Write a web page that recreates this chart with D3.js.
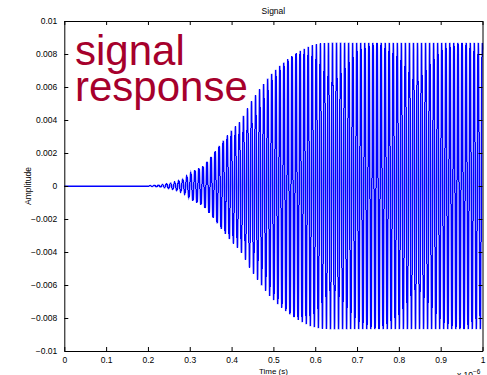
<!DOCTYPE html>
<html lang="en"><head><meta charset="utf-8">
<script type="text/javascript" src="https://cdn.jsdelivr.net/npm/d3@7"></script>
<style>
  body { margin: 0; background: #fff; }
  text { font-family: "Liberation Sans", Arial, sans-serif; }
</style>
</head>
<body>
<script type="text/javascript">
// signal response plot, time axis in units of 1e-6 s

var width = 487;
var height = 375;
var margin = {top: 21, right: 4.5, bottom: 24, left: 64.3};

var xTicks = [0, 0.1, 0.2, 0.3, 0.4, 0.5, 0.6, 0.7, 0.8, 0.9, 1];
var yTicks = [-0.01, -0.008, -0.006, -0.004, -0.002, 0, 0.002, 0.004, 0.006, 0.008, 0.01];
var xTickLabels = ["0", "0.1", "0.2", "0.3", "0.4", "0.5", "0.6", "0.7", "0.8", "0.9", "1"];
var yTickLabels = ["\u22120.01", "\u22120.008", "\u22120.006", "\u22120.004", "\u22120.002", "0",
                   "0.002", "0.004", "0.006", "0.008", "0.01"];

// envelope of the oscillation
var envTime = [0, 0.2, 0.23, 0.26, 0.284, 0.308, 0.332, 0.352, 0.372, 0.397, 0.42, 0.436,
               0.444, 0.468, 0.492, 0.516, 0.54, 0.563, 0.587, 0.611, 0.635, 0.7, 1];
var envAmp  = [0, 0, 0.00006, 0.0002, 0.0004, 0.0009, 0.0012, 0.0018, 0.0025, 0.0033, 0.0039, 0.0046,
               0.0050, 0.0059, 0.0067, 0.0073, 0.0078, 0.0082, 0.0085, 0.00865, 0.0087, 0.0087, 0.0087];
// carrier: cycles per 1e-6 s (from stroke spacing)
var carrierCycles = 103.3;
var samplesPerCycle = 16;

var svg = d3.select("body").append("svg")
    .attr("width", width)
    .attr("height", height);

var x = d3.scaleLinear().domain([0, 1]).range([margin.left, width - margin.right]);
var y = d3.scaleLinear().domain([-0.01, 0.01]).range([height - margin.bottom, margin.top]);
var env = d3.scaleLinear().domain(envTime).range(envAmp).clamp(true);

var pts = [];
var n = Math.round(carrierCycles * samplesPerCycle);
for (var i = 0; i <= n; i++) {
    var t = i / n;
    pts.push([t, env(t) * Math.sin(2 * Math.PI * carrierCycles * t)]);
}

var line = d3.line().x(d => x(d[0])).y(d => y(d[1]));

// light underlay so the dense band reads like the original
svg.append("path")
    .datum(pts)
    .attr("fill", "none")
    .attr("stroke", "#7f7fff")
    .attr("stroke-width", 2)
    .attr("d", line);

svg.append("path")
    .datum(pts)
    .attr("fill", "none")
    .attr("stroke", "#0000ff")
    .attr("stroke-width", 1)
    .attr("shape-rendering", "crispEdges")
    .attr("d", line);

// axes, ticks inward on all four sides
function fmtX(d, i) { return xTickLabels[i]; }
function fmtY(d, i) { return yTickLabels[i]; }

svg.append("g")
    .attr("transform", "translate(0," + y(-0.01) + ")")
    .call(d3.axisBottom(x).tickValues(xTicks).tickFormat(fmtX).tickSizeInner(-4).tickSizeOuter(0).tickPadding(6));
svg.append("g")
    .attr("transform", "translate(0," + y(0.01) + ")")
    .call(d3.axisTop(x).tickValues(xTicks).tickFormat("").tickSizeInner(-4).tickSizeOuter(0));
svg.append("g")
    .attr("transform", "translate(" + x(0) + ",0)")
    .call(d3.axisLeft(y).tickValues(yTicks).tickFormat(fmtY).tickSizeInner(-4).tickSizeOuter(0).tickPadding(7));
svg.append("g")
    .attr("transform", "translate(" + x(1) + ",0)")
    .call(d3.axisRight(y).tickValues(yTicks).tickFormat("").tickSizeInner(-4).tickSizeOuter(0));

svg.selectAll(".domain").attr("stroke", "#000").attr("stroke-width", 1);
svg.selectAll(".tick line").attr("stroke", "#000");
svg.selectAll(".tick text").attr("font-size", 8.5).attr("fill", "#000")
    .style("font-family", "'Liberation Sans', Arial, sans-serif");

svg.append("text")
    .attr("x", x(0.5)).attr("y", 14)
    .attr("text-anchor", "middle").attr("font-size", 8.5)
    .text("Signal");

svg.append("text")
    .attr("x", x(0.5)).attr("y", 374)
    .attr("text-anchor", "middle").attr("font-size", 8)
    .text("Time (s)");

svg.append("text")
    .attr("transform", "translate(31," + y(0) + ") rotate(-90)")
    .attr("text-anchor", "middle").attr("font-size", 8.5)
    .text("Amplitude");

var mult = svg.append("text")
    .attr("x", 457).attr("y", 378)
    .attr("font-size", 8.5);
mult.append("tspan").text("x 10");
mult.append("tspan").attr("dy", -4).attr("font-size", 6.5).text("\u22126");

svg.append("text")
    .attr("x", 75).attr("y", 65)
    .attr("font-size", 42).attr("fill", "#a6002c")
    .text("signal");
svg.append("text")
    .attr("x", 75).attr("y", 101)
    .attr("font-size", 42).attr("fill", "#a6002c")
    .text("response");
</script>
</body></html>
